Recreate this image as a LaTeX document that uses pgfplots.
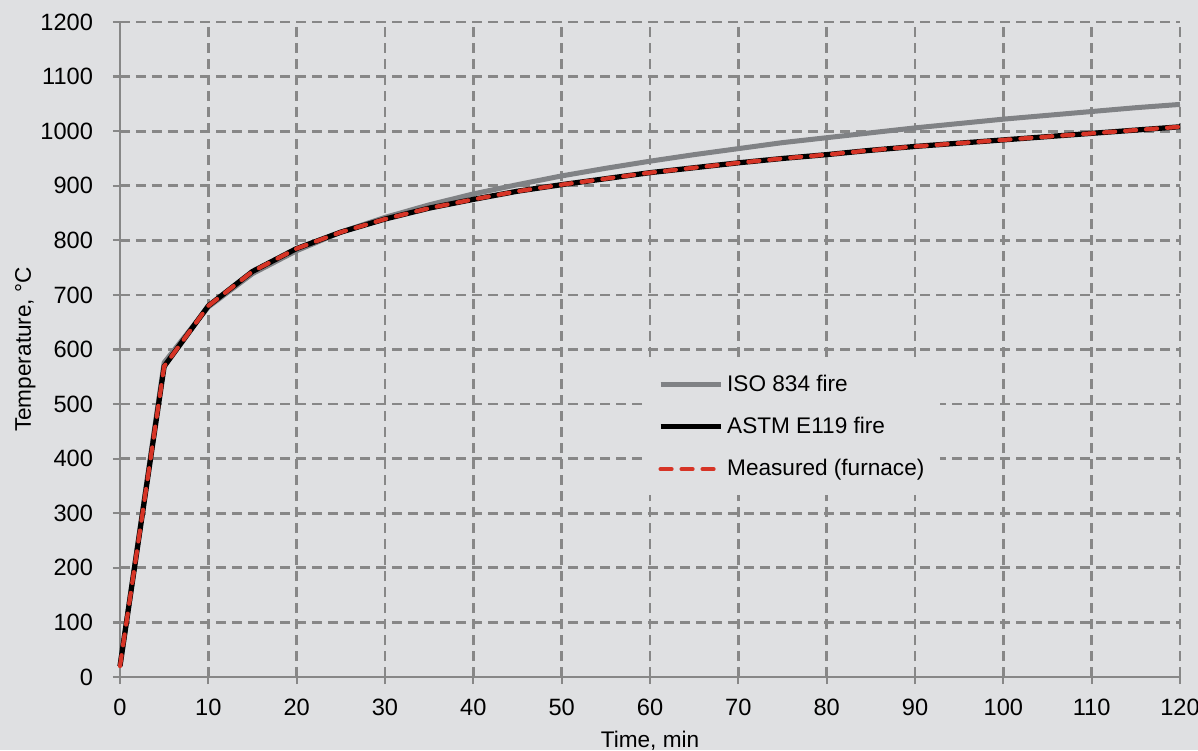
\documentclass[border=0pt]{standalone}
\usepackage{pgfplots}
\pgfplotsset{compat=1.18}
\usepackage{fontspec}
\setmainfont{Liberation Sans}
\definecolor{bgc}{RGB}{223,224,226}
\definecolor{gridc}{RGB}{135,135,135}
\definecolor{isoc}{RGB}{128,130,133}
\definecolor{redc}{RGB}{214,52,38}
\begin{document}
\begin{tikzpicture}
\fill[bgc] (-60pt,-36.5pt) rectangle (539pt,338.5pt);
\begin{axis}[
 scale only axis, width=530pt, height=327.5pt,
 xmin=0, xmax=120, ymin=0, ymax=1200,
 xtick={0,10,...,120}, ytick={0,100,...,1200},
 axis x line*=bottom, axis y line*=left,
 axis line style={gridc, line width=1.3pt, -},
 grid=major,
 major grid style={gridc, line width=1.4pt, dash pattern=on 5pt off 3pt},
 tick align=center, major tick length=7pt,
 tick style={gridc, line width=1.1pt},
 ticklabel style={font=\fontsize{11.8}{14}\selectfont},
 yticklabel style={xshift=-6.5pt},
 xticklabel style={yshift=-4pt},
 /pgf/number format/assume math mode=true,
 /pgf/number format/1000 sep={},
 clip=false,
 legend style={at={(axis cs:59.5,584)}, anchor=north west, fill=bgc, draw=none,
   font=\fontsize{11.3}{13.5}\selectfont, row sep=7.5pt, inner xsep=6pt, inner ysep=6pt},
 legend cell align=left,
 legend image code/.code={\draw[#1] (0pt,0pt) -- (30pt,0pt);},
]
\addplot[isoc, line width=2.5pt] coordinates {
(0,20) (5,576) (10,678) (15,739) (20,781) (25,815) (30,842) (35,865) (40,885)
(45,902) (50,918) (55,932) (60,945) (65,957) (70,968) (75,979) (80,988)
(85,997) (90,1006) (95,1014) (100,1022) (105,1029) (110,1036) (115,1043) (120,1049)};
\addlegendentry{ISO 834 fire}
\addplot[black, line width=2.6pt] coordinates {
(0,20) (5,569) (10,680) (15,743) (20,785) (25,815) (30,839) (35,859) (40,875)
(45,890) (50,902) (55,913) (60,924) (65,933) (70,942) (75,950) (80,957)
(85,965) (90,972) (95,978) (100,984) (105,990) (110,996) (115,1002) (120,1008)};
\addlegendentry{ASTM E119 fire}
\addplot[redc, line width=2.1pt, line cap=round, dash pattern=on 5.5pt off 5pt] coordinates {
(0,20) (5,569) (10,680) (15,743) (20,785) (25,815) (30,839) (35,859) (40,875)
(45,890) (50,902) (55,913) (60,924) (65,933) (70,942) (75,950) (80,957)
(85,965) (90,972) (95,978) (100,984) (105,990) (110,996) (115,1002) (120,1008)};
\addlegendentry{Measured (furnace)}
\node[rotate=90, anchor=base, font=\fontsize{11.3}{13.5}\selectfont] at ([xshift=-44.5pt]rel axis cs:0,0.5) {Temperature, °C};
\node[anchor=base, font=\fontsize{11.3}{13.5}\selectfont] at ([yshift=-35pt]rel axis cs:0.5,0) {Time, min};
\end{axis}
\pgfresetboundingbox
\path[use as bounding box] (-60pt,-36.5pt) rectangle (539pt,338.5pt);
\end{tikzpicture}
\end{document}
